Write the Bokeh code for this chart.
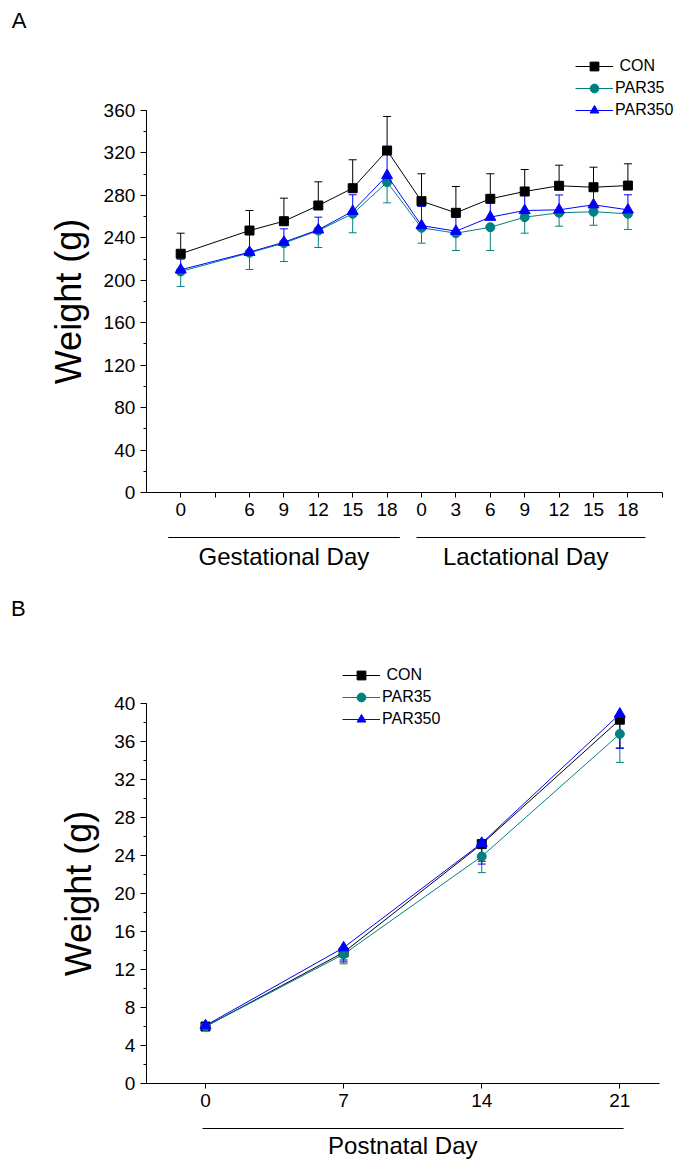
from bokeh.plotting import figure
from bokeh.models import (Range1d, LinearAxis, FixedTicker, SingleIntervalTicker,
                          Whisker, TeeHead, ColumnDataSource)
from bokeh.layouts import column
from bokeh.core.properties import value
from bokeh.embed import file_html
from bokeh.resources import INLINE

FONT = "Liberation Sans"

# ---------------- Panel A data ----------------
a_pos = [1, 3, 4, 5, 6, 7, 8, 9, 10, 11, 12, 13, 14]
a_tick_pos = list(range(1, 16))
a_tick_labels = ["0", "", "6", "9", "12", "15", "18", "0", "3", "6", "9", "12", "15", "18", ""]
a_con = [225.0, 246.9, 255.7, 270.5, 286.8, 322.3, 274.6, 263.6, 276.8, 283.7, 289.1, 287.7, 289.3]
a_con_sd = [19.4, 18.9, 21.7, 22.3, 26.8, 32.1, 25.8, 24.8, 23.6, 20.7, 19.4, 18.9, 20.5]
a_par35 = [208.3, 225.9, 235.0, 246.9, 262.7, 292.5, 249.5, 244.4, 250.0, 259.5, 263.6, 264.6, 262.7]
a_par35_sd = [14.1, 15.7, 17.3, 16.0, 17.9, 19.5, 14.5, 16.3, 21.9, 15.1, 12.6, 12.7, 14.8]
a_par350 = [209.9, 226.5, 235.9, 247.6, 265.1, 298.8, 251.6, 246.3, 259.5, 265.8, 266.4, 271.2, 266.4]
a_par350_sd = [10.0, 16.7, 12.6, 11.9, 15.5, 20.0, 18.0, 13.0, 17.0, 15.0, 14.0, 13.4, 14.2]
a_groups = ["Gestational Day", "Lactational Day"]

# ---------------- Panel B data ----------------
b_days = [0, 7, 14, 21]
b_con = [6.0, 13.8, 25.2, 38.3]
b_con_sd = [0.4, 1.0, 1.8, 3.0]
b_par35 = [6.0, 13.6, 23.9, 36.8]
b_par35_sd = [0.4, 1.0, 1.7, 3.0]
b_par350 = [6.1, 14.3, 25.3, 38.9]
b_par350_sd = [0.3, 1.3, 2.2, 3.6]

series_names = ["CON", "PAR35", "PAR350"]
legend_labels = ["\u00a0CON", "PAR35", "PAR350"]
colors = ["#000000", "#008080", "#0000FF"]
markers = ["square", "circle", "triangle"]
msizes = [9, 9, 11]


def style_axis(ax, size="19px"):
    ax.axis_line_color = "black"
    ax.axis_line_width = 1
    ax.major_tick_line_color = "black"
    ax.minor_tick_line_color = "black"
    ax.major_tick_in = 0
    ax.major_tick_out = 6
    ax.minor_tick_in = 0
    ax.minor_tick_out = 3
    ax.major_label_text_font = FONT
    ax.major_label_text_font_size = size
    ax.major_label_text_color = "black"
    ax.axis_label_text_font = FONT
    ax.axis_label_text_font_style = "normal"
    ax.axis_label_text_color = "black"


def make_fig(w, h, xr, yr):
    p = figure(width=w, height=h, x_range=Range1d(*xr), y_range=Range1d(*yr),
               output_backend="svg", toolbar_location=None,
               x_axis_location=None, y_axis_location=None, min_border=0)
    p.min_border_left = p.min_border_right = p.min_border_top = p.min_border_bottom = 0
    p.outline_line_color = None
    for g in p.grid:
        g.visible = False
    return p


def add_series(p, xs, ys, sds, idx, up):
    c = colors[idx]
    if up:
        lo, hi = ys, [y + s for y, s in zip(ys, sds)]
        src = ColumnDataSource(dict(x=xs, lower=lo, upper=hi))
        w = Whisker(base="x", lower="lower", upper="upper", source=src, dimension="height",
                    line_color=c, line_width=1, lower_head=None,
                    upper_head=TeeHead(size=8, line_color=c, line_width=1), level="underlay")
    else:
        lo, hi = [y - s for y, s in zip(ys, sds)], ys
        src = ColumnDataSource(dict(x=xs, lower=lo, upper=hi))
        w = Whisker(base="x", lower="lower", upper="upper", source=src, dimension="height",
                    line_color=c, line_width=1, upper_head=None,
                    lower_head=TeeHead(size=8, line_color=c, line_width=1), level="underlay")
    p.add_layout(w)
    p.line(xs, ys, line_color=c, line_width=1, legend_label=legend_labels[idx])
    p.scatter(xs, ys, marker=markers[idx], size=msizes[idx], fill_color=c, line_color=c,
              legend_label=legend_labels[idx])


def style_legend(p, loc):
    lg = p.legend[0]
    lg.location = loc
    lg.border_line_color = None
    lg.background_fill_alpha = 0
    lg.padding = 0
    lg.margin = 0
    lg.spacing = 0
    lg.glyph_width = 38
    lg.glyph_height = 22
    lg.label_height = 22
    lg.label_standoff = 2
    lg.label_text_font = FONT
    lg.label_text_font_size = "16px"
    lg.label_text_color = "black"


W = 683

# ================= Panel A =================
pa = make_fig(W, 582, (-4.238, 15.616), (-84.8, 463.7))

xa = LinearAxis(fixed_location=0, bounds=(0, 15),
                ticker=FixedTicker(ticks=a_tick_pos, minor_ticks=[]))
xa.major_label_overrides = {t: l for t, l in zip(a_tick_pos, a_tick_labels)}
style_axis(xa)
xa.major_tick_out = 5
xa.major_label_standoff = 5
pa.add_layout(xa, "below")

ya = LinearAxis(fixed_location=0, bounds=(0, 360),
                ticker=SingleIntervalTicker(interval=40, num_minor_ticks=2),
                axis_label="Weight (g)")
style_axis(ya)
ya.major_label_standoff = 5
ya.axis_label_text_font_size = "36px"
ya.axis_label_standoff = 12
pa.add_layout(ya, "left")

add_series(pa, a_pos, a_con, a_con_sd, 0, True)
add_series(pa, a_pos, a_par35, a_par35_sd, 1, False)
add_series(pa, a_pos, a_par350, a_par350_sd, 2, True)

# group underlines and labels
pa.line([0.637, 7.37], [-42.4, -42.4], line_color="black", line_width=1)
pa.line([7.855, 14.51], [-42.4, -42.4], line_color="black", line_width=1)
pa.text(x=[4.0, 11.03], y=[-60.3, -60.3], text=a_groups, text_font=value(FONT),
        text_font_size="24px", text_align="center", text_baseline="middle", text_color="black")
pa.text(x=[-3.70], y=[444.9], text=["A"], text_font=value(FONT), text_font_size="22px",
        text_align="center", text_baseline="middle", text_color="black")
style_legend(pa, (575, 461))

# ================= Panel B =================
pb = make_fig(W, 577, (-10.39, 24.227), (-8.0, 52.74))

xb = LinearAxis(fixed_location=0, bounds=(-3, 23),
                ticker=FixedTicker(ticks=b_days, minor_ticks=[]))
style_axis(xb)
xb.major_tick_out = 5
xb.major_label_standoff = 5
pb.add_layout(xb, "below")

yb = LinearAxis(fixed_location=-3, bounds=(0, 40),
                ticker=SingleIntervalTicker(interval=4, num_minor_ticks=2),
                axis_label="Weight (g)")
style_axis(yb)
yb.major_label_standoff = 5
yb.axis_label_text_font_size = "36px"
yb.axis_label_standoff = 12
pb.add_layout(yb, "left")

add_series(pb, b_days, b_con, b_con_sd, 0, False)
add_series(pb, b_days, b_par35, b_par35_sd, 1, False)
add_series(pb, b_days, b_par350, b_par350_sd, 2, False)

pb.line([-0.15, 21.19], [-4.737, -4.737], line_color="black", line_width=1)
pb.text(x=[10.0], y=[-6.526], text=["Postnatal Day"], text_font=value(FONT),
        text_font_size="24px", text_align="center", text_baseline="middle", text_color="black")
pb.text(x=[-9.48], y=[50.0], text=["B"], text_font=value(FONT), text_font_size="22px",
        text_align="center", text_baseline="middle", text_color="black")
style_legend(pb, (342, 429))

layout = column(pa, pb, spacing=0)
open("out.html", "w").write(file_html(layout, INLINE))
